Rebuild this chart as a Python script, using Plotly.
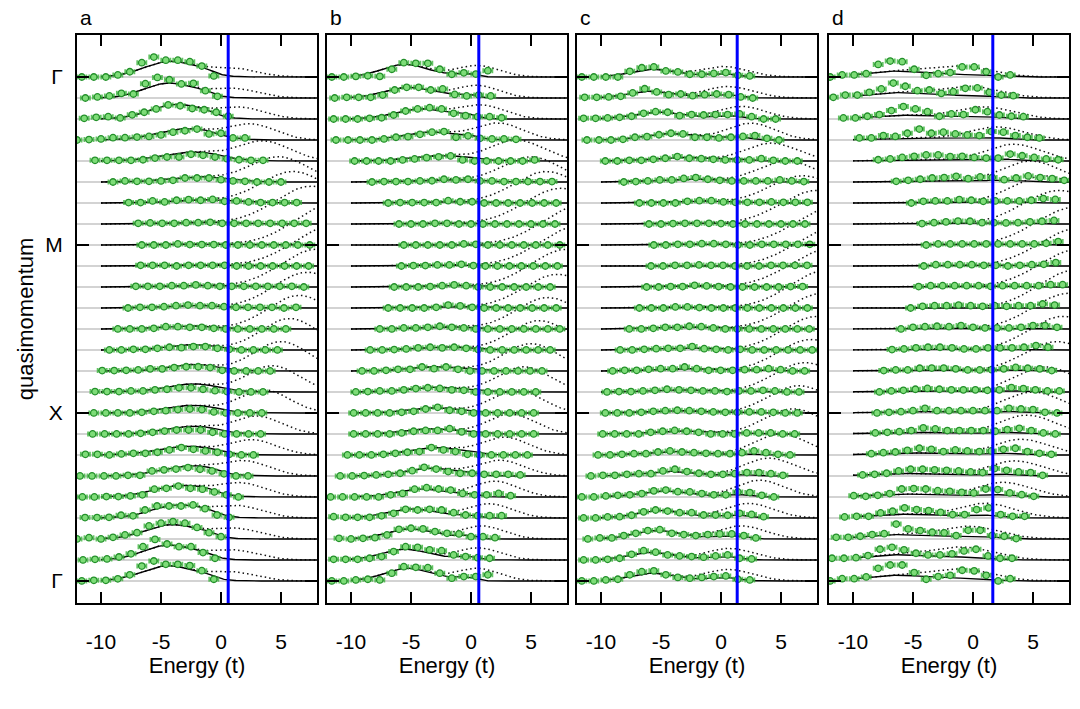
import numpy as np
import plotly.graph_objects as go

# ---------------- data ----------------
E_RANGE = [-12, 8]
Y_RANGE = [-1.05, 26.0]
N_ROWS = 25
ROW_OFFSET = [24 - i for i in range(N_ROWS)]   # row 0 = top Γ
Y_TICKVALS = [0, 8, 16, 24]
Y_TICKTEXT = ["Γ", "X", "M", "Γ"]
X_TICKVALS = [-10, -5, 0, 5]
X_TICKTEXT = ["-10", "-5", "0", "5"]
PANEL_LETTERS = ["a", "b", "c", "d"]
BLUE_E = [0.6, 0.65, 1.35, 1.65]
SHOULDER_K = [1.0, 0.35, 0.3, 0.2]
SHOULDER_MU = [-1.0, 0.4, 1.9, 3.0]
SHOULDER_T = [0.45, 0.35, 0.5, 0.8]
POINT_STEP = 1.0
POINT_ERR = 0.38

# ---- panel a ----
A_X0 = [-11.6, -11.3, -11.4, -12.0, -10.5, -9.0, -7.7, -6.9, -6.6, -6.7, -7.1, -7.75, -8.6,
        -9.3, -9.9, -10.5, -10.6, -10.7, -11.3, -11.75, -11.55, -11.33, -12.0, -11.5, -11.6]
A_PTS = [
    [0, 0, 0, 0.1, 0.25, 0.68, 0.95, 0.8, 0.8, 0.73, 0.52, 0.05],
    [0, 0.05, 0.1, 0.22, 0.19, 0.68, 0.98, 0.87, 0.67, 0.7, 0.35, 0.08],
    [0.03, 0.08, 0.11, 0.05, 0.2, 0.32, 0.48, 0.67, 0.63, 0.5, 0.44, 0.32, 0.13],
    [0, 0.02, 0.05, 0.11, 0.11, 0.14, 0.17, 0.24, 0.37, 0.44, 0.52, 0.29, 0.32, 0.1, 0.1],
    [0.03, 0.03, 0.03, 0.03, 0.06, 0.14, 0.19, 0.19, 0.32, 0.27, 0.19, 0.11, 0.06, 0.03, 0.03],
    [0, 0.05, 0.03, 0.03, 0.05, 0.08, 0.19, 0.19, 0.19, 0.11, 0.05, 0.03, 0, 0, 0],
    [0.02, 0.02, 0.1, 0.05, 0.13, 0.16, 0.13, 0.17, 0.08, 0.1, 0.05, 0.02, 0.02, 0.02, 0.02],
    [0.03, 0.05, 0.03, 0.03, 0.06, 0.06, 0.08, 0.03, 0.03, 0.03, 0.03, 0.03, 0.03, 0.03, 0.03],
    [0, 0, 0, 0.05, 0.02, 0.02, 0.02, 0, 0, 0, 0, 0, 0, 0, 0],
    [0.03, 0.03, 0.03, 0, 0.03, 0.03, 0.03, 0.03, 0, 0, 0, 0, 0, 0, 0],
    [0.03, 0.03, 0.03, 0.06, 0.06, 0.1, 0.06, 0.03, 0.03, 0.03, 0.03, 0.03, 0.03, 0.03, 0],
    [0, 0.03, 0.03, 0.06, 0.11, 0.14, 0.11, 0.11, 0.06, 0.03, 0.03, 0.03, 0.03, 0, 0.03],
    [0, 0, 0, 0.03, 0.11, 0.11, 0.08, 0.08, 0.03, 0, 0, 0, 0, 0, 0],
    [0, 0, 0.03, 0.03, 0.08, 0.13, 0.11, 0.16, 0.16, 0.08, 0.03, 0, 0, 0, 0],
    [0.02, 0.02, 0.03, 0.05, 0.1, 0.1, 0.16, 0.2, 0.2, 0.16, 0.03, 0, 0, 0, 0],
    [0.02, 0.02, 0.02, 0.05, 0.05, 0.1, 0.13, 0.2, 0.2, 0.13, 0.06, 0.02, 0, 0, 0],
    [0, 0, 0, 0, 0.03, 0.08, 0.11, 0.16, 0.19, 0.16, 0.05, 0, 0, 0, 0],
    [0, 0, 0, 0, 0.03, 0.08, 0.14, 0.19, 0.19, 0.19, 0.08, 0, 0, 0, 0],
    [0.03, 0.03, 0, 0.05, 0.08, 0.08, 0.13, 0.24, 0.35, 0.27, 0.19, 0.13, 0.03, 0, 0],
    [0, 0, 0, 0, 0.03, 0.03, 0.24, 0.29, 0.33, 0.4, 0.32, 0.24, 0.1, 0, 0],
    [0, 0, 0.02, 0.02, 0.05, 0.1, 0.37, 0.41, 0.52, 0.41, 0.37, 0.24, 0.1, 0],
    [0.02, 0.02, 0.03, 0.13, 0.1, 0.38, 0.57, 0.57, 0.57, 0.62, 0.44, 0.14, 0.03],
    [0, 0.06, 0, 0.08, 0.19, 0.3, 0.62, 0.75, 0.83, 0.75, 0.55, 0.3, 0.11],
    [0, 0.03, 0.05, 0.14, 0.29, 0.63, 0.98, 0.76, 0.63, 0.63, 0.35, 0.08],
    [0, 0.03, 0.03, 0.1, 0.29, 0.71, 0.95, 0.79, 0.79, 0.73, 0.49, 0.08],
]
A_G1C = [-4.3, -4.4, -3.8, -3.1, -2.6, -1.9, -1.5, -1.5, -1.5, -1.5, -2.0, -2.5, -3.0,
         -2.4, -2.4, -2.5, -2.7, -2.7, -3.1, -3.0, -3.5, -3.7, -4.2, -4.4, -4.5]
A_G1H = [0.73, 0.7, 0.68, 0.52, 0.4, 0.22, 0.13, 0.08, 0.04, 0.04, 0.07, 0.12, 0.15,
         0.25, 0.3, 0.37, 0.35, 0.35, 0.4, 0.44, 0.52, 0.6, 0.67, 0.7, 0.71]
A_G1S = [2.1, 2.0, 2.1, 2.3, 2.4, 2.5, 2.5, 2.5, 3.0, 3.0, 2.5, 2.3, 2.2,
         2.0, 2.0, 2.1, 2.1, 2.1, 2.2, 2.2, 2.2, 2.1, 2.1, 2.0, 2.1]
A_G3C = [0.9, 1.0, 1.6, 2.5, 3.5, 4.8, 6.0, 7.5, 9.5, 9.3, 8.0, 7.2, 6.5,
         5.7, 5.0, 4.3, 3.6, 3.0, 2.6, 2.0, 1.7, 1.4, 1.2, 1.0, 0.9]
A_G3H = [0.42, 0.45, 0.55, 0.75, 0.95, 1.2, 1.5, 1.8, 2.0, 1.9, 1.8, 1.7, 1.6,
         1.5, 1.4, 1.25, 1.1, 0.85, 0.72, 0.7, 0.65, 0.57, 0.5, 0.47, 0.42]
A_G3S = [2.0, 2.0, 2.0, 2.0, 2.2, 2.4, 2.7, 3.0, 3.2, 3.2, 3.0, 2.8, 2.6,
         2.4, 2.3, 2.2, 2.1, 2.0, 2.0, 2.0, 2.0, 2.0, 2.0, 2.0, 2.0]

# ---- panel b ----
B_X0 = [-11.6, -11.36, -11.45, -11.25, -9.7, -8.25, -6.9, -6.0, -5.6, -5.8, -6.4, -6.9, -7.6,
        -8.4, -9.08, -9.6, -9.78, -9.78, -10.3, -10.9, -11.7, -11.45, -11.0, -11.45, -11.6]
B_PTS = [
    [0, 0, 0.03, 0.06, 0.03, 0.37, 0.68, 0.65, 0.65, 0.37, 0.13, 0.2, 0.14, 0.3],
    [0, 0.03, 0.03, 0.03, 0.14, 0.38, 0.51, 0.51, 0.38, 0.43, 0.17, 0.1, 0.14, 0.1],
    [0, 0, 0, 0.03, 0.06, 0.19, 0.38, 0.48, 0.54, 0.48, 0.27, 0.16, 0.11, 0.11, 0.06],
    [0, 0, 0, 0, 0.05, 0.13, 0.16, 0.27, 0.37, 0.4, 0.13, 0.2, 0.08, 0.05, 0.05, 0.03],
    [0, 0, 0, 0, 0.05, 0.1, 0.16, 0.2, 0.24, 0.05, 0, 0, 0, 0, 0, 0.05],
    [0, 0.02, 0.02, 0.02, 0.05, 0.06, 0.13, 0.1, 0.13, 0.05, 0.05, 0.02, 0.02, 0.02, 0.02, 0.02],
    [0, 0.02, 0.02, 0.02, 0.02, 0.11, 0.06, 0.06, 0, 0, 0, 0, 0, 0, 0],
    [0, 0, 0, 0.03, 0.03, 0, 0, 0, 0, 0, 0, 0, 0, 0],
    [0, 0, 0, 0, 0, 0.05, 0.03, 0, 0, 0, 0, 0, 0, 0],
    [0, 0.02, 0.02, 0.05, 0.05, 0.08, 0.02, 0, 0, 0, 0, 0, 0, 0],
    [0, 0, 0, 0.02, 0.06, 0.1, 0.06, 0, 0, 0, 0, 0, 0, 0],
    [0, 0, 0, 0, 0.03, 0.14, 0.1, 0.03, 0, 0, 0, 0, 0, 0, 0],
    [0, 0, 0.05, 0.05, 0.08, 0.13, 0.08, 0.05, 0, 0, 0, 0, 0, 0, 0, 0],
    [0, 0, 0.02, 0.05, 0.1, 0.13, 0.1, 0.13, 0.08, 0.02, 0, 0, 0, 0, 0, 0],
    [0, 0, 0.03, 0.08, 0.08, 0.19, 0.11, 0.19, 0.08, 0, 0, 0, 0, 0, 0, 0],
    [0, 0.02, 0.05, 0.05, 0.1, 0.16, 0.2, 0.17, 0.1, 0.08, 0, 0, 0, 0, 0, 0],
    [0, 0, 0, 0, 0.03, 0.08, 0.19, 0.27, 0.13, 0.08, 0, 0, 0, 0, 0, 0],
    [0, 0, 0, 0, 0.05, 0.13, 0.17, 0.17, 0.25, 0.1, 0, 0, 0, 0, 0, 0],
    [0, 0, 0, 0.03, 0.08, 0.13, 0.16, 0.35, 0.24, 0.16, 0.03, 0, 0, 0, 0, 0],
    [0, 0, 0.02, 0.05, 0.08, 0.13, 0.25, 0.41, 0.33, 0.21, 0.13, 0.13, 0.08, 0.08, 0.08, 0.05],
    [0, 0, 0, 0, 0, 0.1, 0.17, 0.37, 0.44, 0.38, 0.33, 0.17, 0.1, 0.1, 0.17, 0.06],
    [0.06, 0.03, 0.03, 0.03, 0.1, 0.22, 0.41, 0.38, 0.41, 0.38, 0.25, 0.14, 0.11, 0.11, 0.11],
    [0.03, 0, 0.03, 0.06, 0.19, 0.46, 0.51, 0.48, 0.35, 0.27, 0.24, 0.11, 0.11, 0.06],
    [0.03, 0.03, 0.03, 0.08, 0.16, 0.4, 0.63, 0.6, 0.48, 0.44, 0.24, 0.16, 0.11, 0.08],
    [0, 0, 0.05, 0.08, 0.05, 0.37, 0.68, 0.65, 0.63, 0.37, 0.13, 0.21, 0.21, 0.29],
]
B_G1C = [-5.5, -5.2, -4.2, -3.4, -2.7, -2.0, -1.5, -1.5, -1.5, -1.8, -2.0, -1.8, -2.3,
         -2.5, -3.0, -3.0, -3.1, -3.4, -3.1, -3.5, -4.1, -4.9, -5.05, -5.5, -5.3]
B_G1H = [0.6, 0.5, 0.48, 0.37, 0.25, 0.1, 0.06, 0.03, 0.03, 0.04, 0.06, 0.06, 0.1,
         0.15, 0.2, 0.22, 0.24, 0.25, 0.35, 0.37, 0.38, 0.43, 0.48, 0.51, 0.6]
B_G1S = [1.9, 2.0, 2.1, 2.2, 2.3, 2.5, 2.5, 2.5, 2.5, 2.5, 2.5, 2.5, 2.3,
         2.2, 2.1, 2.1, 2.0, 2.0, 2.0, 2.0, 2.0, 2.0, 1.9, 1.9, 1.9]
B_G3C = [0.5, 0.5, 0.9, 2.3, 3.8, 5.0, 6.3, 7.5, 9.3, 9.0, 8.0, 7.2, 6.4,
         5.7, 5.0, 4.4, 3.8, 3.3, 2.8, 2.4, 2.0, 1.5, 0.9, 0.55, 0.5]
B_G3H = [0.55, 0.6, 0.65, 0.8, 1.0, 1.2, 1.5, 1.7, 1.9, 1.9, 1.8, 1.6, 1.5,
         1.4, 1.3, 1.2, 1.1, 0.95, 0.85, 0.75, 0.75, 0.68, 0.62, 0.58, 0.6]
B_G3S = [1.8, 1.8, 1.9, 2.0, 2.2, 2.4, 2.7, 3.0, 3.2, 3.2, 3.0, 2.8, 2.6,
         2.4, 2.3, 2.2, 2.1, 2.0, 2.0, 2.0, 1.9, 1.9, 1.8, 1.8, 1.8]

# ---- panel c ----
C_X0 = [-11.6, -11.36, -11.45, -11.17, -9.64, -8.1, -6.8, -6.0, -5.6, -5.83, -6.2, -6.8, -7.64,
        -8.4, -9.03, -9.5, -9.64, -9.86, -10.25, -10.84, -11.6, -11.45, -11.1, -11.45, -11.6]
C_PTS = [
    [0, 0, 0, 0, 0.27, 0.44, 0.48, 0.29, 0.24, 0.13, 0.13, 0.17, 0.21, 0.08, 0.05],
    [0.03, 0.03, 0.05, 0.08, 0.24, 0.44, 0.29, 0.16, 0.19, 0.11, 0.16, 0.19, 0.16, 0.05, 0],
    [0.03, 0.03, 0.05, 0.08, 0.13, 0.27, 0.35, 0.32, 0.16, 0.21, 0.19, 0.21, 0.21, 0.24, 0.11, 0, 0],
    [0, 0, 0, 0.03, 0.13, 0.16, 0.25, 0.32, 0.29, 0.13, 0.13, 0.1, 0.13, 0.17, 0.21, 0.08, 0],
    [0, 0, 0.03, 0.03, 0.08, 0.13, 0.21, 0.13, 0.11, 0.08, 0.05, 0.05, 0.05, 0.11, 0.03, 0, 0],
    [0, 0.02, 0.05, 0.1, 0.1, 0.17, 0.21, 0.13, 0.08, 0.05, 0.05, 0.05, 0.05, 0.1, 0.05, 0.02],
    [0, 0, 0, 0, 0.08, 0.11, 0.11, 0.05, 0.03, 0.03, 0.03, 0.05, 0.03, 0.03, 0.03],
    [0, 0, 0.02, 0.03, 0.03, 0.03, 0.02, 0, 0, 0, 0, 0, 0, 0],
    [0, 0, 0.03, 0.03, 0.06, 0.06, 0.03, 0, 0, 0.03, 0.03, 0.03, 0.03, 0.03],
    [0, 0, 0.03, 0.03, 0.05, 0.03, 0.03, 0, 0, 0, 0.03, 0.03, 0.03, 0.03],
    [0, 0, 0.02, 0.02, 0.08, 0.05, 0.02, 0, 0, 0, 0, 0, 0.02, 0.02],
    [0, 0, 0, 0.05, 0.05, 0.02, 0, 0, 0, 0, 0, 0, 0, 0, 0],
    [0, 0, 0.03, 0.08, 0.08, 0.13, 0.11, 0.05, 0, 0, 0, 0, 0, 0, 0, 0],
    [0, 0, 0.03, 0.06, 0.08, 0.08, 0.16, 0.06, 0.03, 0, 0.03, 0, 0, 0, 0, 0, 0],
    [0, 0.03, 0.03, 0.08, 0.11, 0.11, 0.19, 0.11, 0.03, 0.03, 0.03, 0.06, 0.06, 0.11, 0.06, 0, 0],
    [0, 0.02, 0.02, 0.05, 0.08, 0.13, 0.1, 0.08, 0.05, 0.05, 0.02, 0.05, 0.05, 0.08, 0.05, 0, 0],
    [0, 0, 0, 0.03, 0.08, 0.11, 0.13, 0.11, 0.08, 0.05, 0.03, 0.03, 0.05, 0.05, 0.03, 0, 0],
    [0, 0, 0, 0, 0.08, 0.13, 0.17, 0.13, 0.08, 0, 0, 0, 0.05, 0.05, 0.05, 0, 0],
    [0, 0, 0.03, 0.06, 0.06, 0.14, 0.19, 0.14, 0.11, 0.08, 0.06, 0.06, 0.11, 0.19, 0.11, 0.03, 0],
    [0, 0.03, 0.03, 0.08, 0.11, 0.11, 0.24, 0.32, 0.21, 0.13, 0.08, 0.08, 0.11, 0.16, 0.16, 0.11, 0.03],
    [0, 0, 0.05, 0.08, 0.1, 0.16, 0.29, 0.33, 0.25, 0.24, 0.16, 0.1, 0.1, 0.24, 0.21, 0.08, 0],
    [0, 0, 0.05, 0.06, 0.13, 0.29, 0.38, 0.33, 0.25, 0.25, 0.14, 0.14, 0.13, 0.22, 0.17, 0.06],
    [0, 0.05, 0.05, 0.16, 0.27, 0.4, 0.44, 0.27, 0.21, 0.16, 0.21, 0.24, 0.24, 0.16, 0.05],
    [0, 0, 0.03, 0.08, 0.27, 0.44, 0.37, 0.24, 0.19, 0.16, 0.13, 0.19, 0.24, 0.08, 0.05],
    [0, 0, 0.05, 0.08, 0.29, 0.44, 0.48, 0.29, 0.17, 0.13, 0.17, 0.21, 0.24, 0.08, 0.05],
]
C_G1C = [-5.75, -6.0, -5.3, -4.2, -3.3, -2.5, -2.0, -2.0, -2.0, -2.0, -2.5, -3.0, -3.0,
         -3.0, -3.2, -3.7, -3.5, -3.6, -4.0, -4.4, -4.8, -5.0, -5.3, -5.9, -5.8]
C_G1H = [0.37, 0.32, 0.33, 0.3, 0.17, 0.13, 0.09, 0.04, 0.04, 0.03, 0.05, 0.05, 0.09,
         0.09, 0.11, 0.1, 0.11, 0.14, 0.16, 0.22, 0.29, 0.36, 0.4, 0.36, 0.37]
C_G1S = [1.8, 1.8, 2.0, 2.1, 2.3, 2.5, 2.5, 2.5, 2.5, 2.5, 2.5, 2.5, 2.5,
         2.4, 2.3, 2.2, 2.2, 2.2, 2.1, 2.0, 2.0, 1.9, 1.9, 1.8, 1.8]
C_G3C = [0.2, 0.6, 1.7, 2.5, 4.2, 5.5, 6.8, 8.0, 9.5, 9.5, 9.0, 8.8, 8.5,
         8.0, 7.5, 7.0, 6.5, 6.0, 5.0, 4.0, 3.2, 2.3, 1.7, 0.7, 0.6]
C_G3H = [0.5, 0.55, 0.6, 0.8, 0.85, 1.0, 1.3, 1.6, 1.8, 1.8, 1.8, 1.8, 1.7,
         1.6, 1.5, 1.4, 1.3, 1.2, 1.0, 0.85, 0.8, 0.7, 0.62, 0.55, 0.55]
C_G3S = [2.0, 2.0, 2.0, 2.0, 2.2, 2.4, 2.7, 3.0, 3.2, 3.2, 3.2, 3.0, 3.0,
         2.8, 2.7, 2.6, 2.5, 2.4, 2.2, 2.1, 2.0, 2.0, 2.0, 2.0, 2.0]

# ---- panel d ----
D_X0 = [-11.9, -11.64, -10.8, -9.47, -7.9, -6.4, -5.14, -4.25, -3.9, -4.1, -4.53, -5.2, -6.0,
        -6.75, -7.44, -7.8, -8.0, -8.14, -8.47, -9.2, -9.94, -10.7, -11.4, -11.75, -11.9]
D_PTS = [
    [0, 0.1, 0.1, 0.16, 0.6, 0.76, 0.73, 0.37, 0.08, 0.16, 0.21, 0.48, 0.48, 0.25, 0, 0.1],
    [0.03, 0.14, 0.14, 0.27, 0.43, 0.71, 0.56, 0.35, 0.38, 0.22, 0.3, 0.46, 0.48, 0.27, 0.14, 0.11],
    [0.05, 0.05, 0.13, 0.21, 0.4, 0.59, 0.48, 0.35, 0.13, 0.24, 0.21, 0.44, 0.35, 0.19, 0.13, 0.11],
    [0.1, 0.1, 0.21, 0.17, 0.32, 0.52, 0.32, 0.37, 0.29, 0.24, 0.21, 0.4, 0.37, 0.21, 0.13, 0.1],
    [0.06, 0.1, 0.17, 0.22, 0.29, 0.29, 0.21, 0.22, 0.17, 0.14, 0.14, 0.33, 0.25, 0.17, 0.1, 0.06],
    [0.03, 0.08, 0.13, 0.19, 0.21, 0.27, 0.16, 0.24, 0.21, 0.11, 0.19, 0.29, 0.21, 0.16, 0.08],
    [0, 0.08, 0.1, 0.1, 0.16, 0.13, 0.08, 0.1, 0.1, 0.1, 0.13, 0.21, 0.17],
    [0.02, 0.06, 0.1, 0.14, 0.13, 0.06, 0.06, 0.05, 0.06, 0.1, 0.13, 0.17],
    [0, 0.05, 0.05, 0.05, 0.05, 0.05, 0.05, 0.05, 0.05, 0.05, 0.08, 0.16],
    [0, 0.06, 0.06, 0.06, 0.06, 0.03, 0.03, 0, 0.03, 0.06, 0.08, 0.16],
    [0.02, 0.06, 0.06, 0.06, 0.06, 0.06, 0.03, 0.06, 0.06, 0.06, 0.06, 0.11, 0.11],
    [0, 0.08, 0.11, 0.11, 0.14, 0.11, 0.08, 0.11, 0.08, 0.11, 0.11, 0.19, 0.14],
    [0, 0.08, 0.11, 0.13, 0.11, 0.16, 0.08, 0.05, 0.05, 0.05, 0.08, 0.16, 0.16, 0.08],
    [0.02, 0.05, 0.1, 0.13, 0.13, 0.1, 0.05, 0.05, 0.1, 0.1, 0.1, 0.13, 0.21, 0.13],
    [0.02, 0.05, 0.05, 0.13, 0.14, 0.14, 0.1, 0.05, 0.05, 0.06, 0.1, 0.17, 0.13, 0.1, 0.02],
    [0, 0.05, 0.08, 0.13, 0.17, 0.13, 0.1, 0.1, 0.1, 0.08, 0.1, 0.21, 0.16, 0.1, 0.05, 0.05],
    [0, 0.03, 0.06, 0.11, 0.22, 0.11, 0.11, 0.11, 0.11, 0.11, 0.11, 0.22, 0.19, 0.16, 0.03, 0],
    [0.05, 0.08, 0.11, 0.16, 0.29, 0.24, 0.16, 0.16, 0.16, 0.16, 0.13, 0.21, 0.27, 0.16, 0.05, 0],
    [0.06, 0.11, 0.14, 0.22, 0.32, 0.27, 0.16, 0.24, 0.19, 0.16, 0.19, 0.27, 0.32, 0.16, 0.08, 0.03],
    [0.05, 0.08, 0.13, 0.24, 0.32, 0.32, 0.29, 0.27, 0.24, 0.19, 0.16, 0.35, 0.27, 0.19, 0.16, 0.03],
    [0.06, 0.03, 0.08, 0.16, 0.38, 0.4, 0.38, 0.3, 0.27, 0.22, 0.19, 0.38, 0.35, 0.19, 0.11, 0.03],
    [0.05, 0.08, 0.08, 0.24, 0.32, 0.48, 0.4, 0.35, 0.27, 0.16, 0.16, 0.4, 0.48, 0.16, 0.08, 0.08],
    [0.08, 0.08, 0.13, 0.21, 0.25, 0.71, 0.48, 0.4, 0.32, 0.29, 0.16, 0.41, 0.41, 0.17, 0.13, 0.02],
    [0.08, 0.08, 0.11, 0.21, 0.51, 0.6, 0.48, 0.32, 0.24, 0.24, 0.29, 0.43, 0.51, 0.19, 0.08, 0.08],
    [0, 0.11, 0.11, 0.19, 0.6, 0.76, 0.76, 0.4, 0.08, 0.21, 0.27, 0.51, 0.48, 0.27, 0, 0.11],
]
D_G1C = [-6.6, -6.4, -6.1, -5.0, -4.0, -3.0, -3.0, -3.0, -3.0, -3.0, -3.0, -3.0, -4.0,
         -4.0, -4.5, -5.0, -5.0, -5.5, -5.5, -6.0, -6.0, -6.3, -6.5, -6.5, -6.5]
D_G1H = [0.27, 0.25, 0.18, 0.1, 0.06, 0.04, 0.03, 0.02, 0.02, 0.02, 0.02, 0.02, 0.03,
         0.04, 0.05, 0.06, 0.07, 0.08, 0.1, 0.12, 0.14, 0.18, 0.2, 0.24, 0.26]
D_G1S = [2.5, 2.5, 2.5, 2.6, 2.8, 3.0, 3.0, 3.0, 3.0, 3.0, 3.0, 3.0, 3.0,
         3.0, 2.9, 2.8, 2.8, 2.7, 2.7, 2.6, 2.6, 2.5, 2.5, 2.5, 2.5]
D_G3C = [-1.0, -0.3, 0.9, 2.0, 3.4, 4.8, 6.0, 7.2, 8.5, 8.8, 8.8, 8.5, 8.0,
         7.5, 7.0, 6.0, 5.0, 4.5, 4.0, 3.5, 2.5, 1.0, -0.3, -0.8, -0.9]
D_G3H = [0.5, 0.55, 0.58, 0.62, 0.8, 1.0, 1.3, 1.6, 1.8, 1.8, 1.8, 1.8, 1.7,
         1.6, 1.4, 1.2, 1.0, 0.9, 0.75, 0.72, 0.7, 0.7, 0.6, 0.6, 0.55]
D_G3S = [2.5, 2.5, 2.4, 2.3, 2.3, 2.4, 2.7, 3.0, 3.2, 3.2, 3.2, 3.0, 3.0,
         2.8, 2.7, 2.5, 2.4, 2.3, 2.3, 2.3, 2.3, 2.4, 2.5, 2.5, 2.5]

PANELS = [
    (A_X0, A_PTS, A_G1C, A_G1H, A_G1S, A_G3C, A_G3H, A_G3S),
    (B_X0, B_PTS, B_G1C, B_G1H, B_G1S, B_G3C, B_G3H, B_G3S),
    (C_X0, C_PTS, C_G1C, C_G1H, C_G1S, C_G3C, C_G3H, C_G3S),
    (D_X0, D_PTS, D_G1C, D_G1H, D_G1S, D_G3C, D_G3H, D_G3S),
]

# ---------------- layout geometry (pixels) ----------------
W, H = 1080, 709
PANEL_PX = [(77, 317), (327, 567), (577, 817), (829, 1069)]
TOP_PX, BOT_PX = 35, 603
FONT = "Liberation Sans, Arial, Helvetica, sans-serif"

E_CURVE = np.linspace(-10, 8, 241)


def gauss(x, c, h, s):
    return h * np.exp(-(x - c) ** 2 / (2 * s * s))


fig = go.Figure()
for p, (x0s, pts, g1c, g1h, g1s, g3c, g3h, g3s) in enumerate(PANELS):
    xa = "x" if p == 0 else f"x{p+1}"
    ya = "y" if p == 0 else f"y{p+1}"
    k, mu, tt = SHOULDER_K[p], SHOULDER_MU[p], SHOULDER_T[p]
    fermi = 1.0 / (1.0 + np.exp((E_CURVE - mu) / tt))
    gx, gy, dx, dy, sx, sy, px, py = [], [], [], [], [], [], [], []
    for r in range(N_ROWS):
        off = ROW_OFFSET[r]
        gx += [E_RANGE[0], E_RANGE[1], None]
        gy += [off, off, None]
        low = gauss(E_CURVE, g1c[r], g1h[r], g1s[r])
        up = gauss(E_CURVE, g3c[r], g3h[r], g3s[r])
        dx += list(E_CURVE) + [None]
        dy += list(off + low + up) + [None]
        sx += list(E_CURVE) + [None]
        sy += list(off + low + k * up * fermi) + [None]
        for i, hval in enumerate(pts[r]):
            px.append(x0s[r] + i * POINT_STEP)
            py.append(off + hval)
    fig.add_trace(go.Scatter(x=gx, y=gy, mode="lines", xaxis=xa, yaxis=ya,
                             line=dict(color="#c4c4c4", width=1.5), hoverinfo="skip"))
    fig.add_trace(go.Scatter(x=dx, y=dy, mode="lines", xaxis=xa, yaxis=ya,
                             line=dict(color="#111111", width=1.5, dash="1.5px,3px"),
                             hoverinfo="skip"))
    fig.add_trace(go.Scatter(x=sx, y=sy, mode="lines", xaxis=xa, yaxis=ya,
                             line=dict(color="black", width=1.4), hoverinfo="skip"))
    fig.add_trace(go.Scatter(x=px, y=py, mode="markers", xaxis=xa, yaxis=ya,
                             marker=dict(size=6.5, color="#7edc78",
                                         line=dict(color="#23902a", width=1.3)),
                             error_x=dict(type="constant", value=POINT_ERR,
                                          color="rgba(60,180,60,0.8)", thickness=1.8, width=2.5)))

    l, r_ = PANEL_PX[p]
    xkey = "xaxis" if p == 0 else f"xaxis{p+1}"
    ykey = "yaxis" if p == 0 else f"yaxis{p+1}"
    fig.update_layout({
        xkey: dict(domain=[l / W, r_ / W], range=E_RANGE, anchor=ya,
                   tickvals=X_TICKVALS, ticktext=X_TICKTEXT,
                   ticks="inside", ticklen=11, tickwidth=2, tickcolor="black",
                   mirror="allticks", showline=True, linewidth=2, linecolor="black",
                   showgrid=False, zeroline=False,
                   tickfont=dict(family=FONT, size=21, color="black"),
                   ticklabelstandoff=19,
                   title=dict(text="Energy (t)", font=dict(family=FONT, size=22, color="black"),
                              standoff=3)),
        ykey: dict(domain=[1 - BOT_PX / H, 1 - TOP_PX / H], range=Y_RANGE, anchor=xa,
                   tickvals=Y_TICKVALS, ticktext=Y_TICKTEXT, showticklabels=(p == 0),
                   ticks="inside", ticklen=12, tickwidth=2, tickcolor="black",
                   mirror="allticks", showline=True, linewidth=2, linecolor="black",
                   showgrid=False, zeroline=False,
                   tickfont=dict(family=FONT, size=21, color="black"),
                   ticklabelstandoff=8,
                   title=dict(text="quasimomentum" if p == 0 else "",
                              font=dict(family=FONT, size=22, color="black"), standoff=6)),
    })
    fig.add_shape(type="line", xref=xa, yref=f"{ya} domain", x0=BLUE_E[p], x1=BLUE_E[p],
                  y0=0, y1=1, line=dict(color="#0000ff", width=3), layer="above")
    fig.add_annotation(text=PANEL_LETTERS[p], xref="paper", yref="paper",
                       x=(l + 1) / W, y=1 - 18 / H, xanchor="left", yanchor="middle",
                       showarrow=False, font=dict(family=FONT, size=21, color="black"))

fig.update_layout(width=W, height=H, margin=dict(l=0, r=0, t=0, b=0, autoexpand=False),
                  paper_bgcolor="white", plot_bgcolor="white", showlegend=False,
                  font=dict(family=FONT, color="black"))
fig.write_html("out.html")
